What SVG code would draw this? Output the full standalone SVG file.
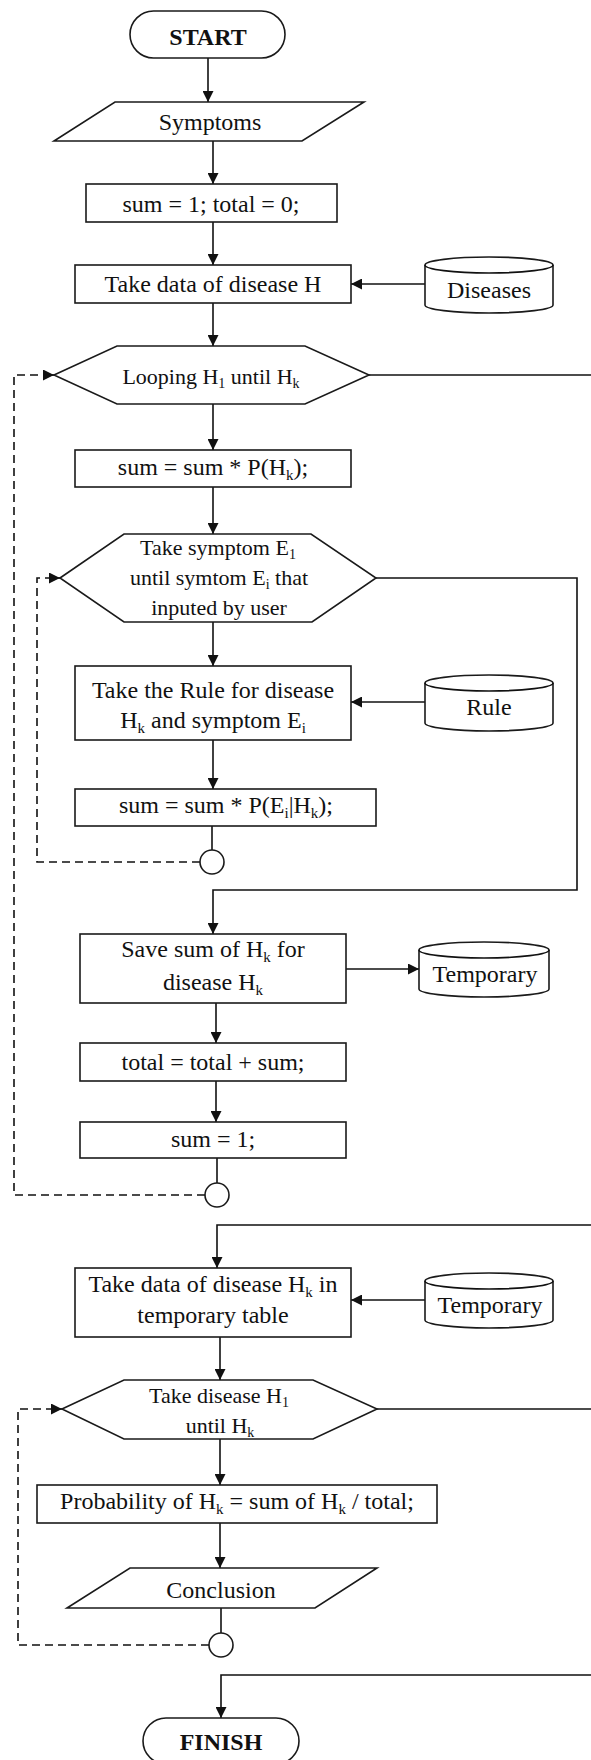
<svg xmlns="http://www.w3.org/2000/svg" width="591" height="1760" viewBox="0 0 591 1760">
<style>
.s{fill:#fff;stroke:#1a1a1a;stroke-width:1.6}
.c{fill:none;stroke:#111;stroke-width:1.6}
.d{fill:none;stroke:#111;stroke-width:1.6;stroke-dasharray:8 5}
text{font-family:"Liberation Serif","Times New Roman",serif;font-size:24px;fill:#111;text-anchor:middle}
.h{font-size:22px}
.b{font-weight:bold}
</style>
<defs>
<marker id="a" viewBox="0 0 10 10" refX="10" refY="5" markerWidth="11" markerHeight="11" markerUnits="userSpaceOnUse" orient="auto"><path d="M0,0 L10,5 L0,10 Z" fill="#111"/></marker>
</defs>
<rect width="591" height="1760" fill="#fff"/>
<g id="connectors">
<path class="c" d="M208,58 V102" marker-end="url(#a)"/>
<path class="c" d="M213,141 V184" marker-end="url(#a)"/>
<path class="c" d="M213,222 V265" marker-end="url(#a)"/>
<path class="c" d="M425,284 H351" marker-end="url(#a)"/>
<path class="c" d="M213,303 V346" marker-end="url(#a)"/>
<path class="c" d="M369,375 H591"/>
<path class="c" d="M213,404 V450" marker-end="url(#a)"/>
<path class="c" d="M213,487 V534" marker-end="url(#a)"/>
<path class="c" d="M213,622 V666" marker-end="url(#a)"/>
<path class="c" d="M425,702 H351" marker-end="url(#a)"/>
<path class="c" d="M213,740 V789" marker-end="url(#a)"/>
<path class="c" d="M212,826 V850"/>
<path class="d" d="M200,862 H37 V578 H52"/>
<path class="c" d="M52,578 H60" marker-end="url(#a)"/>
<path class="c" d="M376,578 H577 V890 H213 V934" marker-end="url(#a)"/>
<path class="c" d="M346,969 H419" marker-end="url(#a)"/>
<path class="c" d="M216,1003 V1043" marker-end="url(#a)"/>
<path class="c" d="M216,1081 V1122" marker-end="url(#a)"/>
<path class="c" d="M217,1158 V1183"/>
<path class="d" d="M205,1195 H14 V375 H46"/>
<path class="c" d="M46,375 H54" marker-end="url(#a)"/>
<path class="c" d="M591,1225 H217 V1268" marker-end="url(#a)"/>
<path class="c" d="M425,1300 H351" marker-end="url(#a)"/>
<path class="c" d="M220,1337 V1380" marker-end="url(#a)"/>
<path class="c" d="M377,1409 H591"/>
<path class="c" d="M220,1439 V1485" marker-end="url(#a)"/>
<path class="c" d="M220,1523 V1568" marker-end="url(#a)"/>
<path class="c" d="M221,1608 V1633"/>
<path class="d" d="M209,1645 H18 V1409 H54"/>
<path class="c" d="M54,1409 H62" marker-end="url(#a)"/>
<path class="c" d="M591,1675 H221 V1718" marker-end="url(#a)"/>
</g>
<g id="start"><rect class="s" x="130" y="11" width="155" height="47" rx="23.5"/><text class="b" x="208" y="45">START</text></g>
<g id="symptoms"><path class="s" d="M115,102 H364 L302,141 H54 Z"/><text x="210" y="130">Symptoms</text></g>
<g id="init"><rect class="s" x="86" y="184" width="251" height="38"/><text x="211" y="212">sum = 1; total = 0;</text></g>
<g id="takeData"><rect class="s" x="75" y="265" width="276" height="38"/><text x="213" y="292">Take data of disease H</text></g>
<g id="diseases"><path class="s" d="M425,265 A64,8 0 0 1 553,265 V305 A64,8 0 0 1 425,305 Z"/><path class="c" d="M425,265 A64,8 0 0 0 553,265"/><text x="489" y="298">Diseases</text></g>
<g id="loopH"><path class="s" d="M54,375 L117,346 H305 L369,375 L305,404 H117 Z"/><text class="h" x="211" y="384">Looping H<tspan font-size="14" dy="4">1</tspan><tspan dy="-4"> until H</tspan><tspan font-size="14" dy="4">k</tspan></text></g>
<g id="sumPH"><rect class="s" x="75" y="450" width="276" height="37"/><text x="213" y="475">sum = sum * P(H<tspan font-size="15" dy="5">k</tspan><tspan dy="-5">);</tspan></text></g>
<g id="loopE"><path class="s" d="M60,578 L124,534 H311 L376,578 L312,622 H124 Z"/><text class="h" x="218" y="555">Take symptom E<tspan font-size="14" dy="4">1</tspan></text><text class="h" x="219" y="585">until symtom E<tspan font-size="14" dy="4">i</tspan><tspan dy="-4"> that</tspan></text><text class="h" x="219" y="615">inputed by user</text></g>
<g id="takeRule"><rect class="s" x="75" y="666" width="276" height="74"/><text x="213" y="698">Take the Rule for disease</text><text x="213" y="728">H<tspan font-size="15" dy="5">k</tspan><tspan dy="-5"> and symptom E</tspan><tspan font-size="15" dy="5">i</tspan></text></g>
<g id="rule"><path class="s" d="M425,683 A64,8 0 0 1 553,683 V723 A64,8 0 0 1 425,723 Z"/><path class="c" d="M425,683 A64,8 0 0 0 553,683"/><text x="489" y="715">Rule</text></g>
<g id="sumPE"><rect class="s" x="75" y="789" width="301" height="37"/><text x="226" y="813">sum = sum * P(E<tspan font-size="15" dy="5">i</tspan><tspan dy="-5">|H</tspan><tspan font-size="15" dy="5">k</tspan><tspan dy="-5">);</tspan></text></g>
<g id="join1"><circle class="s" cx="212" cy="862" r="12"/></g>
<g id="saveSum"><rect class="s" x="80" y="934" width="266" height="69"/><text x="213" y="957">Save sum of H<tspan font-size="15" dy="5">k</tspan><tspan dy="-5"> for</tspan></text><text x="213" y="990">disease H<tspan font-size="15" dy="5">k</tspan></text></g>
<g id="temporary1"><path class="s" d="M419,950 A65,8 0 0 1 549,950 V989 A65,8 0 0 1 419,989 Z"/><path class="c" d="M419,950 A65,8 0 0 0 549,950"/><text x="485" y="982">Temporary</text></g>
<g id="total"><rect class="s" x="80" y="1043" width="266" height="38"/><text x="213" y="1070">total = total + sum;</text></g>
<g id="reset"><rect class="s" x="80" y="1122" width="266" height="36"/><text x="213" y="1147">sum = 1;</text></g>
<g id="join2"><circle class="s" cx="217" cy="1195" r="12"/></g>
<g id="takeTemp"><rect class="s" x="75" y="1268" width="276" height="69"/><text x="213" y="1292">Take data of disease H<tspan font-size="15" dy="5">k</tspan><tspan dy="-5"> in</tspan></text><text x="213" y="1323">temporary table</text></g>
<g id="temporary2"><path class="s" d="M425,1281 A64,8 0 0 1 553,1281 V1320 A64,8 0 0 1 425,1320 Z"/><path class="c" d="M425,1281 A64,8 0 0 0 553,1281"/><text x="490" y="1313">Temporary</text></g>
<g id="loopD"><path class="s" d="M62,1409 L124,1380 H313 L377,1409 L313,1439 H124 Z"/><text class="h" x="219" y="1403">Take disease H<tspan font-size="14" dy="4">1</tspan></text><text class="h" x="220" y="1433">until H<tspan font-size="14" dy="4">k</tspan></text></g>
<g id="probability"><rect class="s" x="37" y="1485" width="400" height="38"/><text x="237" y="1509">Probability of H<tspan font-size="15" dy="5">k</tspan><tspan dy="-5"> = sum of H</tspan><tspan font-size="15" dy="5">k</tspan><tspan dy="-5"> / total;</tspan></text></g>
<g id="conclusion"><path class="s" d="M130,1568 H377 L315,1608 H67 Z"/><text x="221" y="1598">Conclusion</text></g>
<g id="join3"><circle class="s" cx="221" cy="1645" r="12"/></g>
<g id="finish"><rect class="s" x="143" y="1718" width="156" height="46" rx="23"/><text class="b" x="221" y="1750">FINISH</text></g>
</svg>
